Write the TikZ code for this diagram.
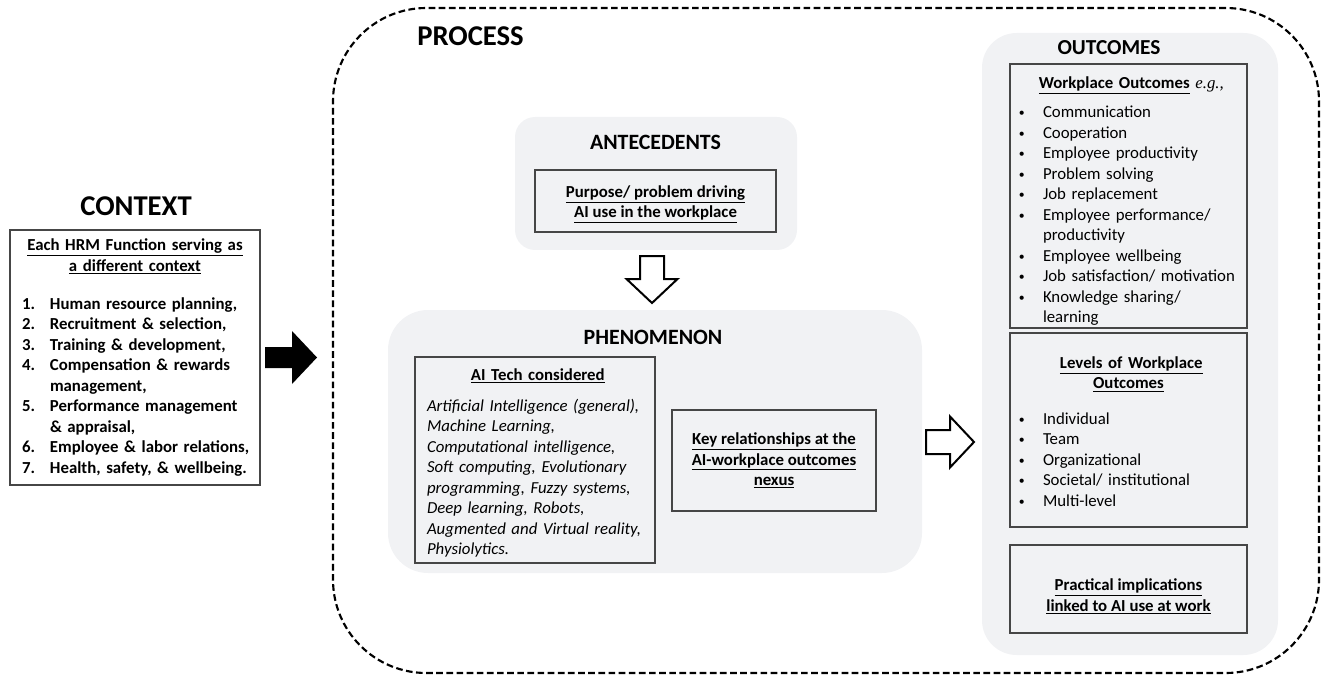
\documentclass[tikz,border=0pt]{standalone}
\usepackage{fontspec}
\usepackage{graphicx}
\setmainfont{Carlito}
\newfontfamily\egfont{Liberation Serif}
\usetikzlibrary{positioning}

\definecolor{panelgray}{RGB}{241,242,244}
\definecolor{boxline}{RGB}{70,70,70}
\newcommand\bodyfont{\fontsize{12.6}{15.4}\selectfont}
\newcommand\numlab[1]{\makebox[21pt][l]{#1}}
\newcommand\bul{\makebox[18.75pt][l]{\hspace*{0.6pt}\raisebox{0.6pt}{\scalebox{0.7}{\textbullet}}}}
\newcommand\hd[1]{\underline{#1}}

\tikzset{
  panel/.style={fill=panelgray, draw=none, inner sep=0pt},
  infobox/.style={draw=boxline, line width=0.9pt, inner ysep=0pt, font=\bodyfont},
  midtitle/.style={font=\bfseries\fontsize{16.4}{19}\selectfont, inner sep=0pt},
  bigtitle/.style={font=\bfseries\fontsize{21.5}{25}\selectfont, inner sep=0pt},
  blockarrow/.style={draw=black, line width=1.5pt, fill=white, line join=miter},
}

\begin{document}
\begin{tikzpicture}[x=0.75pt, y=-0.75pt]
	\useasboundingbox (0,0) rectangle (1323,677);

	% process frame and grey panels
	\node[draw=black, line width=1.6pt, dash pattern=on 5pt off 2.6pt, rounded corners=70pt,
		minimum width=739.5pt, minimum height=498.75pt] (process) at (826,340.5) {};
	\node[panel, rounded corners=15pt, minimum width=211.5pt, minimum height=99.75pt] (antpanel) at (656,183.5) {};
	\node[panel, rounded corners=30pt, minimum width=400.5pt, minimum height=197.25pt] (phenpanel) at (655,441.5) {};
	\node[panel, rounded corners=26pt, minimum width=222pt, minimum height=466.5pt] (outpanel) at (1130,344) {};

	% titles
	\node[bigtitle] (contexttitle) at (136,206) {CONTEXT};
	\node[bigtitle, anchor=west] (processtitle) at (417,36) {PROCESS};
	\node[midtitle] (anttitle) at (655.5,142) {ANTECEDENTS};
	\node[midtitle] (phentitle) at (653,337) {PHENOMENON};
	\node[midtitle, font=\bfseries\fontsize{16}{19}\selectfont] (outtitle) at (1109,48) {OUTCOMES};

	% context
	\node[infobox, inner xsep=9pt, text width=169.5pt, minimum height=191.25pt] (hrm) at (135,357.5) {%
		\setlength\parindent{0pt}\bfseries
		{\centering \hd{\mbox{Each HRM Function serving as}}\\ \hd{a different context}\par}
		\vspace{13pt}\raggedright
		\numlab{1.}\mbox{Human resource planning,}\\
		\numlab{2.}Recruitment \& selection,\\
		\numlab{3.}Training \& development,\\
		\numlab{4.}\mbox{Compensation \& rewards}\\
		\numlab{}management,\\
		\numlab{5.}\mbox{Performance management}\\
		\numlab{}\& appraisal,\\
		\numlab{6.}\mbox{Employee \& labor relations,}\\
		\numlab{7.}\mbox{Health, safety, \& wellbeing.}};

	% antecedents
	\node[infobox, align=center, minimum width=180.75pt, minimum height=46.5pt] (purpose) at (655.5,201)
		{\rule{0pt}{14pt}\bfseries \hd{Purpose/ problem driving}\\ \bfseries \hd{AI use in the workplace}};

	% phenomenon
	\node[infobox, inner xsep=9pt, text width=162pt, minimum height=154.5pt] (aitech) at (535,460) {%
		\setlength\parindent{0pt}
		{\centering\bfseries \rule{0pt}{13.5pt}\hd{AI Tech considered}\par}
		\vspace{7.5pt}\raggedright\itshape
		\mbox{Artificial Intelligence (general),}\\
		Machine Learning,\\
		\mbox{Computational intelligence,}\\
		\mbox{Soft computing, Evolutionary}\\
		\mbox{programming, Fuzzy systems,}\\
		Deep learning, Robots,\\
		\mbox{Augmented and Virtual reality,}\\
		Physiolytics.};
	\node[infobox, align=center, minimum width=153pt, minimum height=75.75pt] (nexus) at (774,460.5)
		{\bfseries \hd{Key relationships at the}\\ \bfseries \hd{AI-workplace outcomes}\\ \bfseries \hd{nexus}};

	% outcomes
	\node[infobox, inner xsep=6pt, text width=165.75pt, minimum height=198pt] (workplace) at (1128.5,196) {%
		\setlength\parindent{0pt}
		{\centering \rule{0pt}{17pt}\mbox{\textbf{\hd{Workplace Outcomes}} {\egfont\itshape e.g.,}}\par}
		\vspace{6pt}\raggedright
		\bul Communication\\
		\bul Cooperation\\
		\bul Employee productivity\\
		\bul Problem solving\\
		\bul Job replacement\\
		\bul \mbox{Employee performance/}\\
		\hspace*{18.75pt}productivity\\
		\bul Employee wellbeing\\
		\bul \mbox{Job satisfaction/ motivation}\\
		\bul \mbox{Knowledge sharing/}\\
		\hspace*{18.75pt}learning};
	\node[infobox, inner xsep=6pt, text width=165.75pt, minimum height=145.5pt] (levels) at (1128.5,430) {%
		\setlength\parindent{0pt}
		{\centering\bfseries \rule{0pt}{11pt}\hd{Levels of Workplace}\\ \hd{Outcomes}\par}
		\vspace{11pt}\raggedright
		\bul Individual\\
		\bul Team\\
		\bul Organizational\\
		\bul \mbox{Societal/ institutional}\\
		\bul Multi-level};
	\node[infobox, align=center, minimum width=177.75pt, minimum height=66pt] (practical) at (1128.5,589)
		{\rule{0pt}{20pt}\bfseries \hd{Practical implications}\\ \bfseries \hd{linked to AI use at work}};

	% block arrows
	\coordinate (ctxtail) at (265,357.5);
	\coordinate (downtail) at (652,256);
	\coordinate (righttail) at (926,442);
	\fill[black] (ctxtail) ++(0,-10.5) -- ++(27,0) -- ++(0,-16) -- ++(25,26.5)
		-- ++(-25,26.5) -- ++(0,-16) -- ++(-27,0) -- cycle;
	\draw[blockarrow] (downtail) ++(-12,0) -- ++(24,0) -- ++(0,23) -- ++(13.5,0)
		-- ++(-25.5,24) -- ++(-25.5,-24) -- ++(13.5,0) -- cycle;
	\draw[blockarrow] (righttail) ++(0,-12) -- ++(24,0) -- ++(0,-13.5) -- ++(24,25.5)
		-- ++(-24,25.5) -- ++(0,-13.5) -- ++(-24,0) -- cycle;
\end{tikzpicture}
\end{document}
